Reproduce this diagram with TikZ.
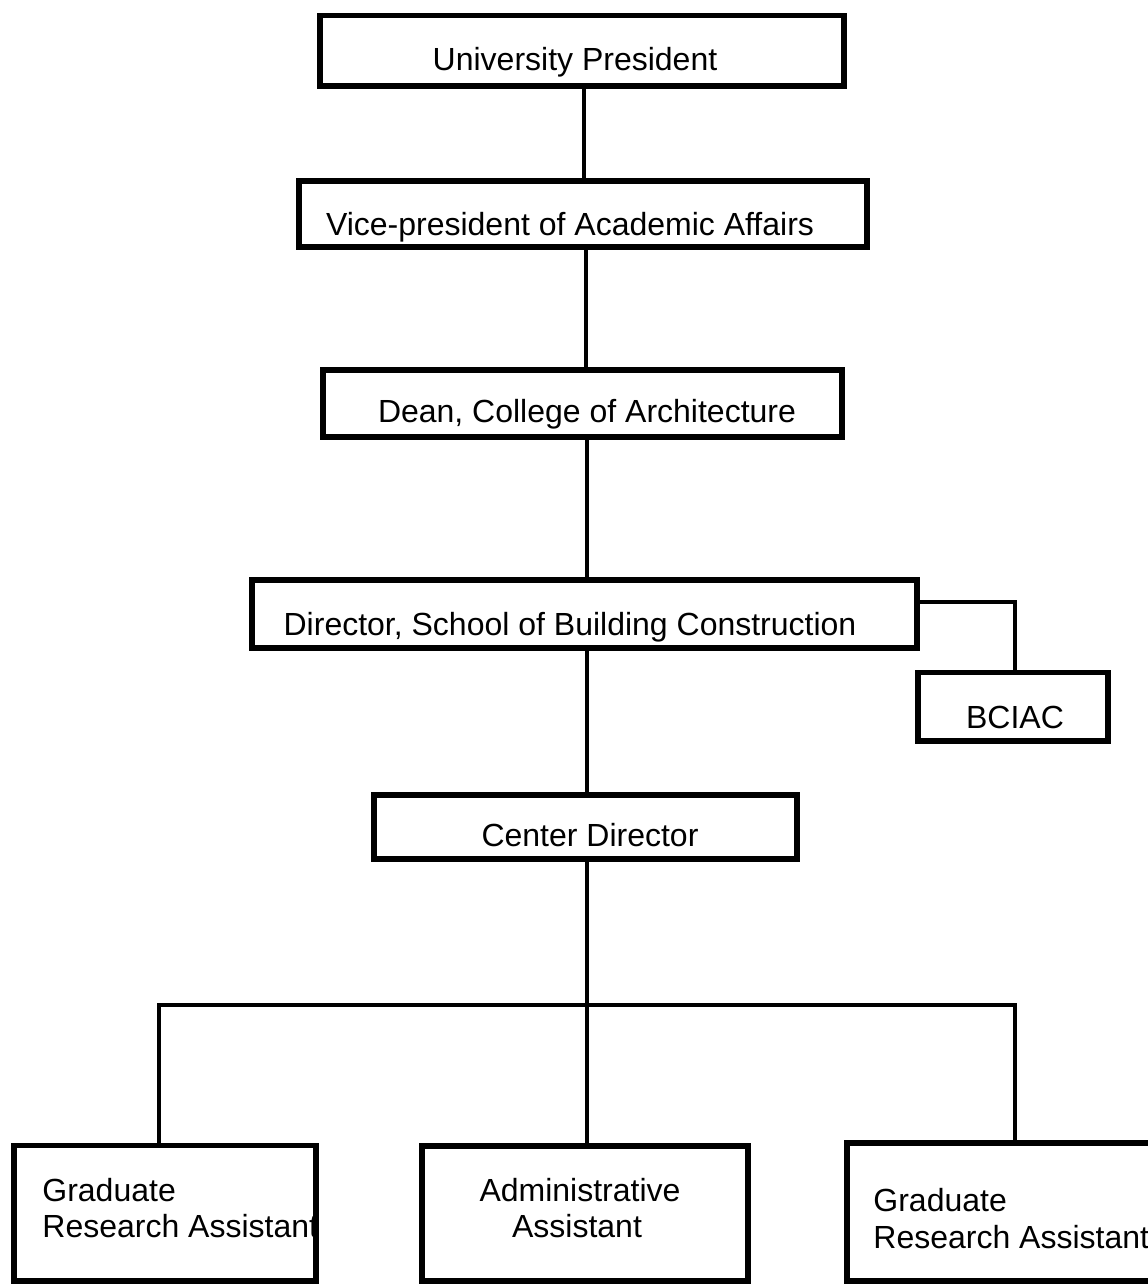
\documentclass[tikz,border=0pt]{standalone}
\usepackage{fontspec}
\setmainfont{Liberation Sans}
\usetikzlibrary{fit}
\begin{document}
\begin{tikzpicture}[x=0.5pt,y=-0.5pt,
  box/.style={draw, line width=2.75pt, inner sep=0pt, rectangle},
  lbl/.style={inner sep=0pt, font=\fontsize{16}{19}\selectfont, anchor=base},
  lbll/.style={inner sep=0pt, font=\fontsize{16}{19}\selectfont, anchor=base west},
  wire/.style={line width=2pt}]
\useasboundingbox (0,0) rectangle (1147,1284);
% boxes, by corners (pixel grid, y downwards)
\node[box, fit={(320,15.5)(844,86)}] (pres) {};
\node[box, fit={(299,181)(867,247)}] (vp) {};
\node[box, fit={(323,370)(842,437)}] (dean) {};
\node[box, fit={(252,580)(917,648)}] (dir) {};
\node[box, fit={(918,672.5)(1108,741)}] (bciac) {};
\node[box, fit={(374,795)(797,859)}] (cdir) {};
\node[box, fit={(14,1145.5)(316,1281)}] (graL) {};
\node[box, fit={(422,1146)(748,1281)}] (adm) {};
\node[box, fit={(847,1143)(1155,1281)}] (graR) {};
% labels
\node[lbl] (tpres) at (575,71) {University President};
\node[lbl] (tvp) at (570,235) {Vice-president of Academic Affairs};
\node[lbl] (tdean) at (587,422) {Dean, College of Architecture};
\node[lbl] (tdir) at (570,635) {Director, School of Building Construction};
\node[lbl] (tbciac) at (1015,728) {BCIAC};
\node[lbl] (tcdir) at (590,846) {Center Director};
\node[lbll] (tgraL1) at (42,1201) {Graduate};
\node[lbll] (tgraL2) at (42,1237) {Research Assistant};
\node[lbl] (tadm1) at (580,1201) {Administrative};
\node[lbl] (tadm2) at (577,1237) {Assistant};
\node[lbll] (tgraR1) at (873,1211) {Graduate};
\node[lbll] (tgraR2) at (873,1248) {Research Assistant};
% reporting lines
\draw[wire] (pres.south -| 584,0) -- (vp.north -| 584,0);
\draw[wire] (vp.south -| 586,0) -- (dean.north -| 586,0);
\draw[wire] (dean.south -| 587,0) -- (dir.north -| 587,0);
\draw[wire] (dir.south -| 587,0) -- (cdir.north -| 587,0);
\draw[wire] (dir.east |- 0,602) -| (bciac.north -| 1015,0);
\coordinate (split) at (587,1005);
\coordinate (busL) at (159,1005);
\coordinate (busR) at (1015,1005);
\draw[wire] (cdir.south -| 587,0) -- (split);
\draw[wire, line join=miter] (graL.north -| busL) -- (busL) -- (busR) -- (graR.north -| busR);
\draw[wire] (split) -- (adm.north -| 587,0);
\end{tikzpicture}
\end{document}
